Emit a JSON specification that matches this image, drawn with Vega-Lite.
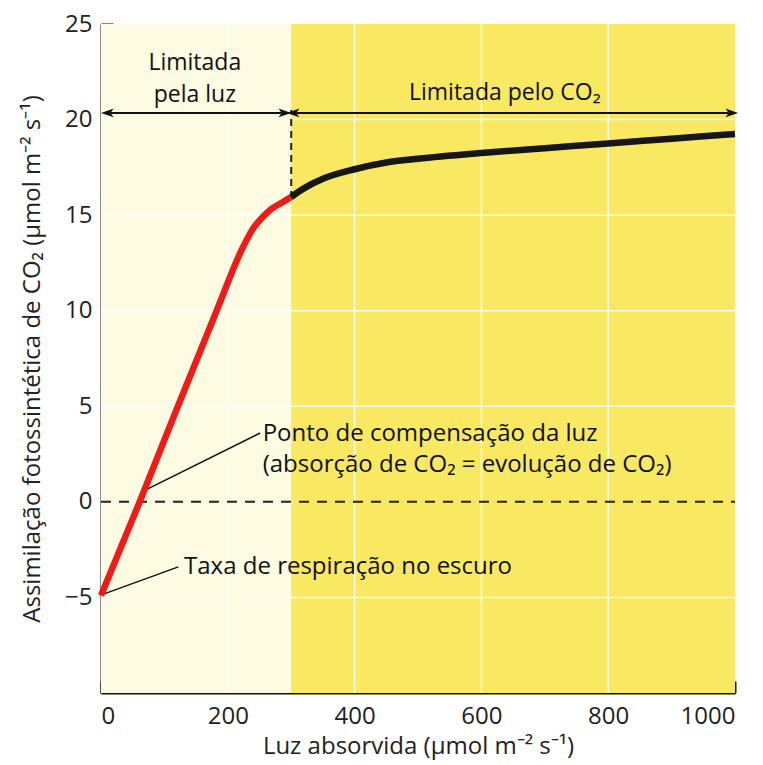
{
  "$schema": "https://vega.github.io/schema/vega-lite/v6.json",
  "width": 634,
  "height": 669,
  "autosize": {"type": "none"},
  "padding": {"left": 101, "top": 24, "right": 28, "bottom": 72},
  "background": "white",
  "config": {
    "font": "Open Sans",
    "view": {"stroke": null},
    "axis": {
      "grid": false,
      "domainColor": "#111",
      "domainWidth": 2,
      "tickColor": "#111",
      "tickWidth": 2,
      "tickSize": -12,
      "labelFontSize": 24,
      "labelColor": "#222",
      "titleFontSize": 24,
      "titleFontWeight": "normal",
      "titleColor": "#222",
      "labelFont": "Open Sans",
      "titleFont": "Open Sans"
    }
  },
  "layer": [
    {
      "data": {"values": [
        {"x0": 0, "x1": 300, "zone": "luz"},
        {"x0": 300, "x1": 1000, "zone": "co2"}
      ]},
      "mark": {"type": "rect"},
      "encoding": {
        "x": {"field": "x0", "type": "quantitative", "scale": {"domain": [0, 1000], "nice": false},
          "axis": {"values": [0, 200, 400, 600, 800, 1000], "format": "d", "title": "Luz absorvida (μmol m⁻² s⁻¹)", "labelPadding": 23, "titlePadding": 6}},
        "x2": {"field": "x1"},
        "y": {"datum": -10, "type": "quantitative", "scale": {"domain": [-10, 25], "nice": false},
          "axis": {"values": [-5, 0, 5, 10, 15, 20, 25], "title": "Assimilação fotossintética de CO₂ (μmol m⁻² s⁻¹)", "labelPadding": 21, "titlePadding": 20}},
        "y2": {"datum": 25},
        "color": {"field": "zone", "type": "nominal", "scale": {"domain": ["luz", "co2"], "range": ["#fdfbe2", "#f8e862"]}, "legend": null}
      }
    },
    {
      "data": {"values": [{"g": 200}, {"g": 400}, {"g": 600}, {"g": 800}]},
      "mark": {"type": "rule", "color": "white", "strokeWidth": 1.5, "opacity": 0.9},
      "encoding": {"x": {"field": "g", "type": "quantitative"}}
    },
    {
      "data": {"values": [{"g": -5}, {"g": 5}, {"g": 10}, {"g": 15}, {"g": 20}]},
      "mark": {"type": "rule", "color": "white", "strokeWidth": 1.5, "opacity": 0.9},
      "encoding": {"y": {"field": "g", "type": "quantitative"}}
    },
    {
      "data": {"values": [{"a": 0, "b": 1000, "v": 0}]},
      "mark": {"type": "rule", "color": "#222", "strokeWidth": 2, "strokeDash": [10, 8]},
      "encoding": {"x": {"field": "a", "type": "quantitative"}, "x2": {"field": "b"}, "y": {"field": "v", "type": "quantitative"}}
    },
    {
      "data": {"values": [{"v": 300, "a": 15.9, "b": 20.5}]},
      "mark": {"type": "rule", "color": "#222", "strokeWidth": 2, "strokeDash": [7, 5]},
      "encoding": {"x": {"field": "v", "type": "quantitative"}, "y": {"field": "a", "type": "quantitative"}, "y2": {"field": "b"}}
    },
    {
      "data": {"values": [
        {"a": 15, "b": 285, "v": 20.35},
        {"a": 308, "b": 990, "v": 20.35}
      ]},
      "mark": {"type": "rule", "color": "#111", "strokeWidth": 2},
      "encoding": {"x": {"field": "a", "type": "quantitative"}, "x2": {"field": "b"}, "y": {"field": "v", "type": "quantitative"}}
    },
    {
      "data": {"values": [{"x": 10, "y": 20.35}, {"x": 303, "y": 20.35}]},
      "mark": {"type": "point", "shape": "M1,-0.7L-1,0L1,0.7L0.5,0Z", "filled": true, "color": "#111", "size": 160, "opacity": 1},
      "encoding": {"x": {"field": "x", "type": "quantitative"}, "y": {"field": "y", "type": "quantitative"}}
    },
    {
      "data": {"values": [{"x": 290, "y": 20.35}, {"x": 995, "y": 20.35}]},
      "mark": {"type": "point", "shape": "M-1,-0.7L1,0L-1,0.7L-0.5,0Z", "filled": true, "color": "#111", "size": 160, "opacity": 1},
      "encoding": {"x": {"field": "x", "type": "quantitative"}, "y": {"field": "y", "type": "quantitative"}}
    },
    {
      "data": {"values": [
        {"x": 69, "y": 0.6, "id": "a", "o": 1}, {"x": 251, "y": 3.6, "id": "a", "o": 2},
        {"x": 6, "y": -4.8, "id": "b", "o": 1}, {"x": 122, "y": -3.4, "id": "b", "o": 2}
      ]},
      "mark": {"type": "line", "color": "#111", "strokeWidth": 1.5},
      "encoding": {"x": {"field": "x", "type": "quantitative"}, "y": {"field": "y", "type": "quantitative"}, "detail": {"field": "id"}, "order": {"field": "o"}}
    },
    {
      "data": {"values": [
        {"x": 0, "y": -4.9}, {"x": 61, "y": 0}, {"x": 120, "y": 4.9}, {"x": 180, "y": 9.8},
        {"x": 225, "y": 13.4}, {"x": 240, "y": 14.3}, {"x": 255, "y": 14.9}, {"x": 270, "y": 15.35},
        {"x": 285, "y": 15.65}, {"x": 300, "y": 15.95}
      ]},
      "mark": {"type": "line", "color": "#ee1c18", "strokeWidth": 6.5, "interpolate": "monotone", "strokeCap": "butt"},
      "encoding": {"x": {"field": "x", "type": "quantitative"}, "y": {"field": "y", "type": "quantitative"}}
    },
    {
      "data": {"values": [
        {"x": 300, "y": 15.95}, {"x": 320, "y": 16.4}, {"x": 350, "y": 16.9}, {"x": 400, "y": 17.4},
        {"x": 450, "y": 17.75}, {"x": 500, "y": 17.95}, {"x": 600, "y": 18.25}, {"x": 700, "y": 18.5},
        {"x": 800, "y": 18.75}, {"x": 900, "y": 19.0}, {"x": 1000, "y": 19.25}
      ]},
      "mark": {"type": "line", "color": "#161616", "strokeWidth": 6.5, "interpolate": "monotone", "strokeCap": "butt"},
      "encoding": {"x": {"field": "x", "type": "quantitative"}, "y": {"field": "y", "type": "quantitative"}}
    },
    {
      "data": {"values": [
        {"x": 148, "y": 22.95, "t": "Limitada"},
        {"x": 148, "y": 21.3, "t": "pela luz"},
        {"x": 637, "y": 21.4, "t": "Limitada pelo CO₂"}
      ]},
      "mark": {"type": "text", "align": "center", "baseline": "middle", "fontSize": 23, "color": "#111", "font": "Open Sans"},
      "encoding": {"x": {"field": "x", "type": "quantitative"}, "y": {"field": "y", "type": "quantitative"}, "text": {"field": "t"}}
    },
    {
      "data": {"values": [
        {"x": 255, "y": 3.55, "t": "Ponto de compensação da luz"},
        {"x": 255, "y": 1.95, "t": "(absorção de CO₂ = evolução de CO₂)"},
        {"x": 131, "y": -3.4, "t": "Taxa de respiração no escuro"}
      ]},
      "mark": {"type": "text", "align": "left", "baseline": "middle", "fontSize": 24, "color": "#111", "font": "Open Sans"},
      "encoding": {"x": {"field": "x", "type": "quantitative"}, "y": {"field": "y", "type": "quantitative"}, "text": {"field": "t"}}
    }
  ]
}
